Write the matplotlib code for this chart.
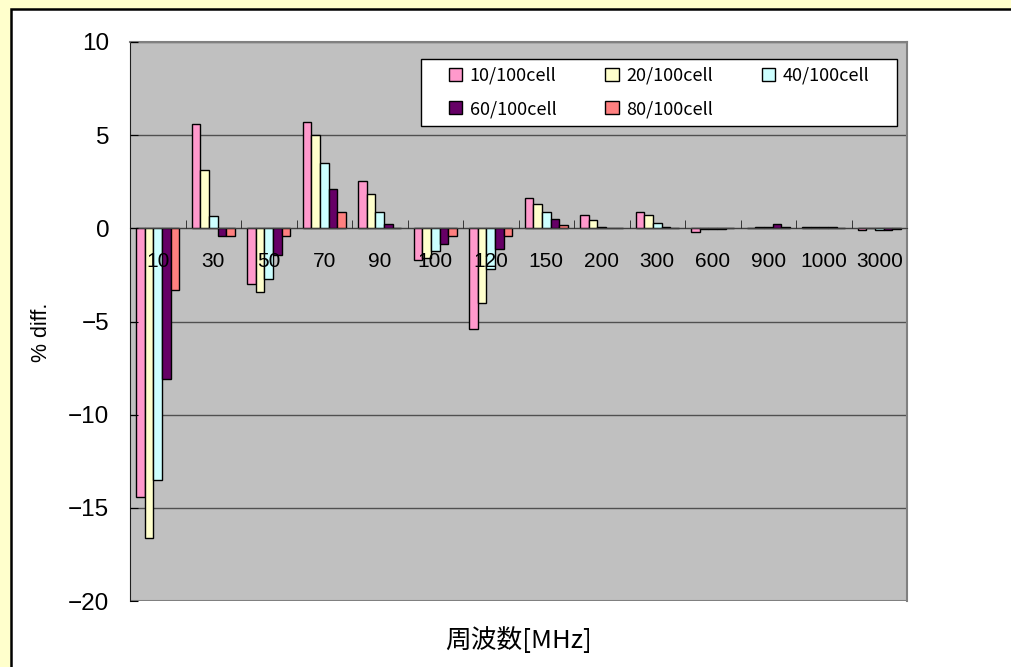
import matplotlib.pyplot as plt
import matplotlib.patches as mpatches
import numpy as np

categories = ['10', '30', '50', '70', '90', '100', '120', '150', '200', '300',
              '600', '900', '1000', '3000']
series_names = ['10/100cell', '20/100cell', '40/100cell', '60/100cell', '80/100cell']
cell10 = [-14.4, 5.6, -3.0, 5.7, 2.55, -1.7, -5.4, 1.65, 0.7, 0.9, -0.2, 0.0, 0.05, -0.1]
cell20 = [-16.6, 3.15, -3.4, 5.0, 1.85, -1.6, -4.0, 1.3, 0.45, 0.7, -0.05, 0.05, 0.05, 0.0]
cell40 = [-13.5, 0.65, -2.7, 3.5, 0.85, -1.2, -2.2, 0.85, 0.08, 0.3, -0.05, 0.05, 0.05, -0.1]
cell60 = [-8.1, -0.4, -1.45, 2.1, 0.25, -0.85, -1.1, 0.5, 0.03, 0.06, -0.05, 0.22, 0.05, -0.1]
cell80 = [-3.3, -0.4, -0.4, 0.9, 0.0, -0.4, -0.4, 0.2, 0.0, 0.0, 0.0, 0.05, 0.0, -0.05]
colors = ['#FF99CC', '#FFFFCC', '#CCFFFF', '#660066', '#FF8080']

W, H = 1011, 667
fig = plt.figure(figsize=(W / 100, H / 100), dpi=100, facecolor='#FFFFCC')

# white chart panel with a black frame on the left and top
panel = mpatches.Rectangle((11 / W, -0.1), 1.2, (H - 9) / H + 0.1,
                           transform=fig.transFigure, facecolor='white',
                           edgecolor='black', lw=1.8, zorder=-10)
fig.patches.append(panel)

ax = fig.add_axes([130 / W, (H - 601) / H, 777 / W, 559 / H])
ax.set_zorder(1)
ax.set_facecolor('#C0C0C0')

x = np.arange(len(categories))
width = 1 / 6.5
data = [cell10, cell20, cell40, cell60, cell80]
handles = []
for i, (vals, name, c) in enumerate(zip(data, series_names, colors)):
    h = ax.bar(x + (i - 2) * width, vals, width, color=c, edgecolor='black',
               linewidth=1.0, label=name, zorder=2)
    handles.append(h)

ax.set_xlim(-0.5, len(categories) - 0.5)
ax.set_ylim(-20, 10)
yticks = np.arange(-20, 11, 5)
ax.set_yticks(yticks)
# gridlines behind the bars, axis labels on top of them
for yv in yticks:
    ax.axhline(yv, color='#505050', lw=1.0, zorder=1)
ax.set_axisbelow(False)

# category axis crosses at zero
ax.spines['bottom'].set_position(('data', 0))
ax.spines['bottom'].set_color('#404040')
ax.spines['left'].set_color('#202020')
ax.spines['top'].set_color('#808080')
ax.spines['right'].set_color('#808080')
ax.spines['top'].set_linewidth(1.5)
ax.spines['right'].set_linewidth(1.5)
ax.axhline(-20, color='#808080', lw=1.5, zorder=1)

ax.set_xticks(x, categories)
ax.set_xticks(np.arange(0.5, len(categories) - 0.5, 1), minor=True)
ax.tick_params(axis='x', which='major', length=0, pad=17, labelsize=15)
ax.tick_params(axis='x', which='minor', direction='in', length=6, color='#202020')
ax.tick_params(axis='y', direction='in', length=6, pad=15, labelsize=17.5)
for lab in ax.get_xticklabels() + ax.get_yticklabels():
    lab.set_family('Liberation Sans')

ax.set_ylabel('% diff.', fontsize=15.5, family='Liberation Sans')
ax.yaxis.set_label_coords(-78 / 777, 0.48)
ax.text(0.5, -0.07, '周波数[MHz]', transform=ax.transAxes, ha='center', va='center',
        fontsize=18.5, family=['Noto Sans CJK JP', 'DejaVu Sans'])

# legend box
x0, x1 = (421 - 130) / 777, (897 - 130) / 777
y0, y1 = (601 - 126) / 559, (601 - 59) / 559
ax.add_patch(mpatches.Rectangle((x0, y0), x1 - x0, y1 - y0, transform=ax.transAxes,
                                facecolor='white', edgecolor='black', lw=1.0,
                                zorder=4))
order = [0, 3, 1, 4, 2]
leg = ax.legend([handles[k] for k in order], [series_names[k] for k in order],
                ncol=3, loc='center', bbox_to_anchor=((x0 + x1) / 2, (y0 + y1) / 2),
                prop={'family': ['Noto Sans CJK JP', 'DejaVu Sans'], 'size': 13},
                frameon=False, handlelength=0.75, handleheight=0.75,
                handletextpad=0.4, columnspacing=2.7, borderpad=0,
                labelspacing=0.85, borderaxespad=0)
leg.set_zorder(5)

fig.savefig('out.png', dpi=100, facecolor=fig.get_facecolor())
